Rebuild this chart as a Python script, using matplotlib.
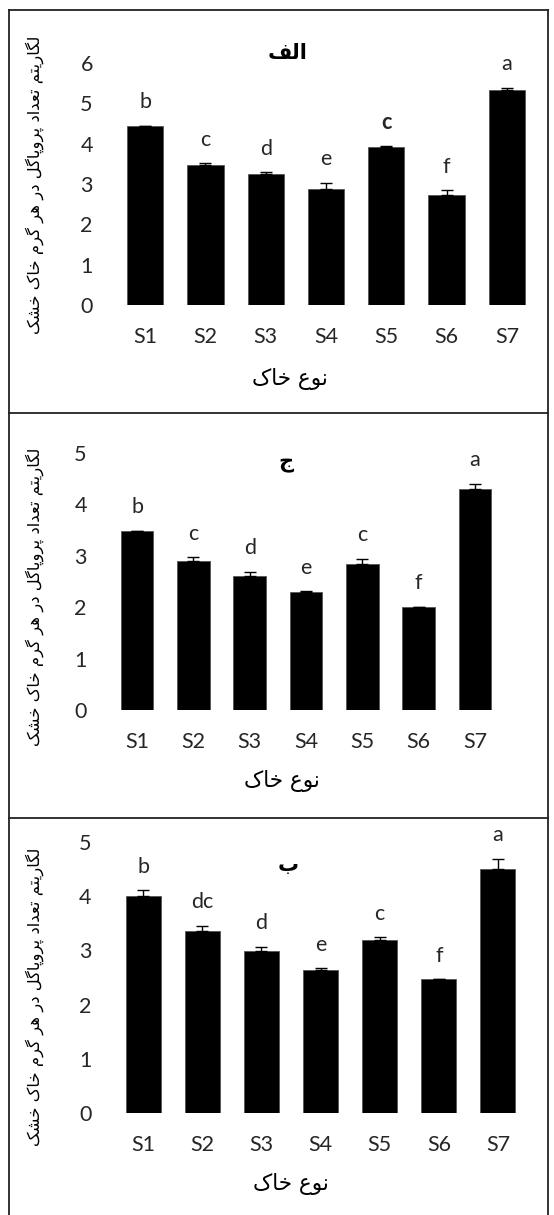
import matplotlib
matplotlib.use("Agg")
import matplotlib.pyplot as plt
from matplotlib.lines import Line2D

# ---------------- data ----------------
categories = ["S1", "S2", "S3", "S4", "S5", "S6", "S7"]

titles = ["الف", "ج", "ب"]
y_label = "لگاریتم تعداد پروپاگل در هر گرم خاک خشک"
x_label = "نوع خاک"

values_alef = [4.45, 3.46, 3.24, 2.88, 3.91, 2.72, 5.34]
errors_alef = [0.00, 0.05, 0.05, 0.15, 0.02, 0.12, 0.05]
letters_alef = ["b", "c", "d", "e", "c", "f", "a"]

values_jim = [3.49, 2.90, 2.60, 2.29, 2.85, 2.00, 4.30]
errors_jim = [0.00, 0.07, 0.09, 0.02, 0.09, 0.01, 0.10]
letters_jim = ["b", "c", "d", "e", "c", "f", "a"]

values_be = [4.01, 3.36, 2.99, 2.63, 3.20, 2.47, 4.50]
errors_be = [0.10, 0.09, 0.08, 0.04, 0.04, 0.00, 0.19]
letters_be = ["b", "dc", "d", "e", "c", "f", "a"]

y_ticks_alef = [0, 1, 2, 3, 4, 5, 6]
y_ticks_jim = [0, 1, 2, 3, 4, 5]
y_ticks_be = [0, 1, 2, 3, 4, 5]

# ---------------- simple Arabic/Persian shaping ----------------
FORMS = {
    'ا': ('\uFE8D', '\uFE8E', None, None),
    'ب': ('\uFE8F', '\uFE90', '\uFE91', '\uFE92'),
    'پ': ('\uFB56', '\uFB57', '\uFB58', '\uFB59'),
    'ت': ('\uFE95', '\uFE96', '\uFE97', '\uFE98'),
    'ج': ('\uFE9D', '\uFE9E', '\uFE9F', '\uFEA0'),
    'خ': ('\uFEA5', '\uFEA6', '\uFEA7', '\uFEA8'),
    'د': ('\uFEA9', '\uFEAA', None, None),
    'ر': ('\uFEAD', '\uFEAE', None, None),
    'ش': ('\uFEB5', '\uFEB6', '\uFEB7', '\uFEB8'),
    'ع': ('\uFEC9', '\uFECA', '\uFECB', '\uFECC'),
    'ف': ('\uFED1', '\uFED2', '\uFED3', '\uFED4'),
    'ک': ('\uFB8E', '\uFB8F', '\uFB90', '\uFB91'),
    'گ': ('\uFB92', '\uFB93', '\uFB94', '\uFB95'),
    'ل': ('\uFEDD', '\uFEDE', '\uFEDF', '\uFEE0'),
    'م': ('\uFEE1', '\uFEE2', '\uFEE3', '\uFEE4'),
    'ن': ('\uFEE5', '\uFEE6', '\uFEE7', '\uFEE8'),
    'ه': ('\uFEE9', '\uFEEA', '\uFEEB', '\uFEEC'),
    'و': ('\uFEED', '\uFEEE', None, None),
    'ی': ('\uFBFC', '\uFBFD', '\uFBFE', '\uFBFF'),
}


def shape(text):
    out = []
    n = len(text)
    for i, ch in enumerate(text):
        if ch not in FORMS:
            out.append(ch)
            continue
        f = FORMS[ch]
        prev = text[i - 1] if i > 0 else None
        nxt = text[i + 1] if i < n - 1 else None
        jp = prev in FORMS and FORMS[prev][2] is not None
        jn = nxt in FORMS and f[2] is not None
        if jp and jn:
            out.append(f[3])
        elif jp:
            out.append(f[1])
        elif jn:
            out.append(f[2])
        else:
            out.append(f[0])
    return "".join(reversed(out))


# ---------------- figure ----------------
W, H = 554, 1215
fig = plt.figure(figsize=(W / 100, H / 100), dpi=100)
fig.patch.set_facecolor("white")

LATIN = ["Lato", "DejaVu Sans"]
ARAB = ["DejaVu Sans"]
TXT = "#262626"
FS = 15.5


def rect(x0, x1, ytop, ybot):
    return [x0 / W, 1 - ybot / H, (x1 - x0) / W, (ybot - ytop) / H]


panels = [
    dict(vals=values_alef, errs=errors_alef, lets=letters_alef, ticks=y_ticks_alef,
         title=titles[0], box=(115, 537, 63, 305), ttl=(288, 53), xl=(290, 379),
         yl=(35, 185), bold_idx=[4], bw=0.60),
    dict(vals=values_jim, errs=errors_jim, lets=letters_jim, ticks=y_ticks_jim,
         title=titles[1], box=(109, 503, 453, 710), ttl=(286, 463), xl=(282, 781),
         yl=(35, 597), bold_idx=[], bw=0.58),
    dict(vals=values_be, errs=errors_be, lets=letters_be, ticks=y_ticks_be,
         title=titles[2], box=(113.5, 527.5, 842, 1113), ttl=(288, 865), xl=(291, 1184),
         yl=(35, 997), bold_idx=[], bw=0.59),
]

for p in panels:
    ax = fig.add_axes(rect(*p["box"]))
    x = range(len(categories))
    ax.bar(x, p["vals"], width=p["bw"], color="black", edgecolor="#555555", linewidth=0.6,
           zorder=2)
    ax.errorbar(x, p["vals"], yerr=[[0] * len(categories), p["errs"]], fmt="none",
                ecolor="black", elinewidth=1.0, capsize=4.5, capthick=1.0, zorder=3)
    for i, (v, e, l) in enumerate(zip(p["vals"], p["errs"], p["lets"])):
        ax.annotate(l, (i, v + e), xytext=(0, 17), textcoords="offset points",
                    ha="center", va="center", fontsize=FS, color=TXT,
                    family=LATIN, fontweight="bold" if i in p["bold_idx"] else "normal")
    ax.set_xlim(-0.5, len(categories) - 0.5)
    ax.set_ylim(p["ticks"][0], p["ticks"][-1])
    ax.set_yticks(p["ticks"])
    ax.set_xticks(list(x))
    ax.set_xticklabels(categories)
    ax.tick_params(axis="both", length=0, labelsize=FS, colors=TXT)
    ax.tick_params(axis="y", pad=16)
    ax.tick_params(axis="x", pad=16)
    for lab in ax.get_xticklabels() + ax.get_yticklabels():
        lab.set_family(LATIN)
    for s in ax.spines.values():
        s.set_visible(False)
    ax.patch.set_alpha(0)

    fig.text(p["ttl"][0] / W, 1 - p["ttl"][1] / H, shape(p["title"]), ha="center",
             va="center", fontsize=15, fontweight="bold", family=ARAB, color="black")
    fig.text(p["xl"][0] / W, 1 - p["xl"][1] / H, shape(x_label), ha="center",
             va="center", fontsize=15.5, family=ARAB, color="black")
    fig.text(p["yl"][0] / W, 1 - p["yl"][1] / H, shape(y_label), ha="center",
             va="center", fontsize=11.8, family=ARAB, color="black", rotation=90)

# ---------------- frame lines ----------------
lc = "#222222"
lw = 1.3
L, R, T = 8.5, 547.5, 9.5
for (x0, y0, x1, y1) in [(L, T, R, T), (L, T, L, H), (R, T, R, H),
                         (L, 413, R, 413), (L, 818, R, 818)]:
    fig.add_artist(Line2D([x0 / W, x1 / W], [1 - y0 / H, 1 - y1 / H], color=lc,
                          linewidth=lw, transform=fig.transFigure))

fig.savefig("out.png", dpi=100, facecolor="white")
